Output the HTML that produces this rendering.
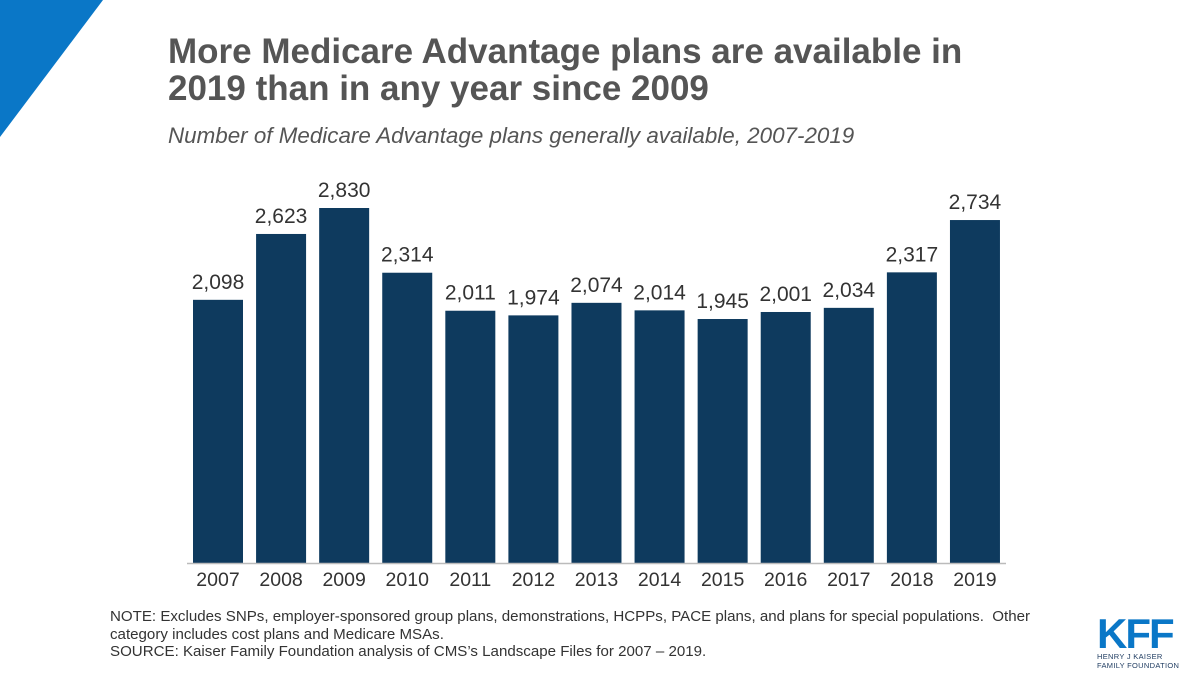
<!DOCTYPE html>
<html><head><meta charset="utf-8"><style>
body{margin:0;width:1200px;height:675px;background:#fff;overflow:hidden;font-family:"Liberation Sans",sans-serif;position:relative}
.t{position:absolute;left:168px;top:33px;font-size:35px;font-weight:bold;color:#555;line-height:37px;white-space:nowrap}
.s{position:absolute;left:168px;top:123px;font-size:22.4px;font-style:italic;color:#555;white-space:nowrap}
.n{position:absolute;left:110px;top:608px;font-size:15.1px;color:#333;line-height:17.5px;width:940px}
</style></head><body>
<svg style="position:absolute;left:0;top:0" width="110" height="140"><polygon points="0,0 103,0 0,137" fill="#0a77c7"/></svg>
<div class="t">More Medicare Advantage plans are available in<br>2019 than in any year since 2009</div>
<div class="s">Number of Medicare Advantage plans generally available, 2007-2019</div>
<svg id="c" style="position:absolute;left:0;top:0" width="1200" height="600"></svg>
<div class="n">NOTE: Excludes SNPs, employer-sponsored group plans, demonstrations, HCPPs, PACE plans, and plans for special populations.&nbsp; Other category includes cost plans and Medicare MSAs.<br>SOURCE: Kaiser Family Foundation analysis of CMS’s Landscape Files for 2007 – 2019.</div>
<div style="position:absolute;left:1097px;top:617px;color:#0a77c7">
<div style="font-size:42px;font-weight:900;letter-spacing:-2px;line-height:34px;font-family:'Liberation Sans',sans-serif">KFF</div>
<div style="font-size:7.5px;color:#1d3a5f;line-height:9px;margin-top:1px;letter-spacing:0.3px">HENRY J KAISER<br>FAMILY FOUNDATION</div></div>
<script>
const years=["2007","2008","2009","2010","2011","2012","2013","2014","2015","2016","2017","2018","2019"];
const plans=[2098,2623,2830,2314,2011,1974,2074,2014,1945,2001,2034,2317,2734];
const labels=["2,098","2,623","2,830","2,314","2,011","1,974","2,074","2,014","1,945","2,001","2,034","2,317","2,734"];
const svg=document.getElementById('c'),NS='http://www.w3.org/2000/svg';
const base=563,k=355/2830,x0=193,step=63.08,bw=50;
const y=v=>base-v*k, x=i=>x0+i*step;
function mk(t,a,txt){const e=document.createElementNS(NS,t);for(const q in a)e.setAttribute(q,a[q]);if(txt)e.textContent=txt;svg.appendChild(e);return e;}
plans.forEach((v,i)=>{
const r=mk('rect',{x:x(i),y:y(v),width:bw,height:base-y(v),fill:'#0e3a5e'});


const l=mk('text',{x:x(i)+bw/2,y:y(v)-11,'text-anchor':'middle','font-size':21,fill:'#333','font-family':'Liberation Sans'},labels[i]);


const t=mk('text',{x:x(i)+bw/2,y:base+23,'text-anchor':'middle','font-size':19.5,fill:'#333','font-family':'Liberation Sans'},years[i]);


});
const ax=mk('line',{x1:187,x2:1006,y1:base+0.5,y2:base+0.5,stroke:'#bbb','stroke-width':1.5});


</script>
</body></html>
